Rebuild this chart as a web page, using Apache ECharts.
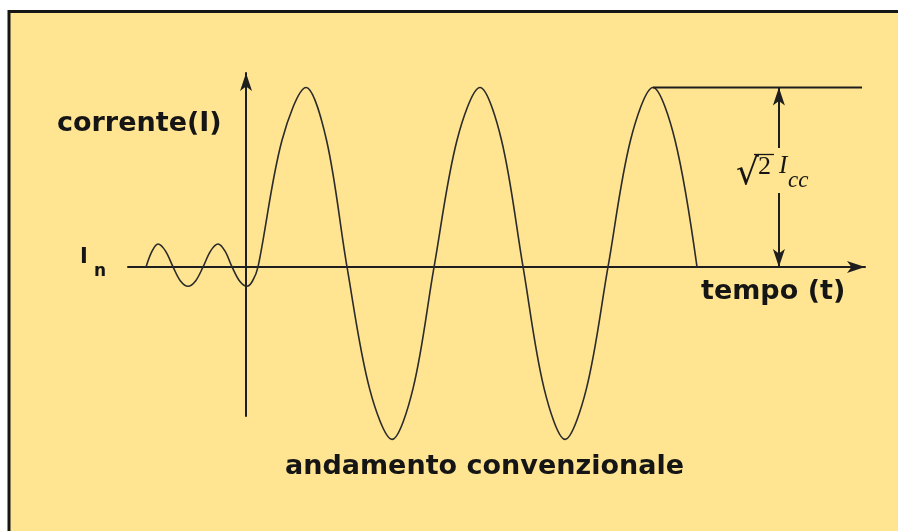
<!DOCTYPE html>
<html>
<head>
<meta charset="utf-8">
<title>andamento convenzionale</title>
<script src="https://cdn.jsdelivr.net/npm/echarts@6/dist/echarts.min.js"></script>
<style>
  html, body { margin: 0; padding: 0; background: #ffffff; }
  #chart { width: 898px; height: 531px; }
</style>
</head>
<body>
<div id="chart"></div>
<script>
  // tempo in ms (origine sull'asse verticale), corrente in % del picco
  var timeMs = [-11.43, -10.74, -10.06, -9.2, -8.34, -7.49, -6.63, -5.77, -4.91,
                -4.06, -3.2, -2.4, -1.6, -0.74, 0.11, 0.74, 1.37,
                4.11, 6.86, 9.2, 11.54, 14.11, 16.69, 19.09, 21.49,
                24.11, 26.74, 29.2, 31.66, 34.06, 36.46, 38.91, 41.37,
                43.94, 46.51, 49.03, 51.54];
  var currentPct = [0, 9, 13, 9, 0, -8, -11, -8, 0,
                    9, 13, 9, 0, -8, -11, -8, 0,
                    72, 102, 72, 0, -69, -98, -69, 0,
                    72, 102, 72, 0, -69, -98, -69, 0,
                    72, 102, 72, 0];

  // livello di picco (sqrt(2) Icc) e quota della freccia
  var peakLevel = 102;
  var peakLineT = [46.51, 70.4];
  var arrowT = 60.9;
  var arrowGap = [42, 67.6];

  var curve = [];
  for (var i = 0; i < timeMs.length; i++) {
    curve.push([timeMs[i], currentPct[i]]);
  }

  var chart = echarts.init(document.getElementById('chart'));

  var axisLineStyle = { color: '#1e1e1e', width: 2 };
  var ink = '#151515';

  chart.setOption({
    backgroundColor: '#ffffff',
    animation: false,
    grid: { left: 128, right: 33, top: 73, bottom: 115, outerBoundsMode: 'none' },
    xAxis: {
      type: 'value',
      min: -13.49,
      max: 70.74,
      axisLine: { onZero: true, symbol: ['none', 'arrow'], symbolSize: [9, 18], lineStyle: axisLineStyle },
      axisTick: { show: false },
      axisLabel: { show: false },
      splitLine: { show: false }
    },
    yAxis: {
      type: 'value',
      min: -84.7,
      max: 110.2,
      axisLine: { onZero: true, symbol: ['none', 'arrow'], symbolSize: [9, 18], lineStyle: axisLineStyle },
      axisTick: { show: false },
      axisLabel: { show: false },
      splitLine: { show: false }
    },
    series: [
      {
        name: 'corrente',
        type: 'line',
        data: curve,
        smooth: 0.33,
        symbol: 'none',
        clip: false,
        lineStyle: { color: '#2b2b2b', width: 1.6 }
      },
      {
        name: 'picco',
        type: 'line',
        data: [[peakLineT[0], peakLevel], [peakLineT[1], peakLevel]],
        symbol: 'none',
        clip: false,
        lineStyle: { color: '#1e1e1e', width: 2 },
        markLine: {
          silent: true,
          symbol: ['none', 'arrow'],
          symbolSize: [9, 18],
          label: { show: false },
          lineStyle: { color: '#1e1e1e', width: 2, type: 'solid' },
          data: [
            [{ coord: [arrowT, arrowGap[1]] }, { coord: [arrowT, peakLevel] }],
            [{ coord: [arrowT, arrowGap[0]] }, { coord: [arrowT, 0] }]
          ]
        }
      }
    ],
    graphic: [
      {
        type: 'rect',
        z: -1,
        silent: true,
        shape: { x: 9, y: 11.5, width: 1000, height: 1000 },
        style: { fill: '#ffe491', stroke: ink, lineWidth: 3 }
      },
      {
        type: 'text', left: 57, top: 110,
        style: { text: 'corrente(I)', font: 'bold 27px "DejaVu Sans"', fill: ink }
      },
      {
        type: 'text', left: 80, top: 247,
        style: { text: 'I', font: 'bold 21px "DejaVu Sans"', fill: ink }
      },
      {
        type: 'text', left: 94, top: 263,
        style: { text: 'n', font: 'bold 17px "DejaVu Sans"', fill: ink }
      },
      {
        type: 'text', left: 701, top: 278,
        style: { text: 'tempo (t)', font: 'bold 27px "DejaVu Sans"', fill: ink }
      },
      {
        type: 'text', left: 285, top: 453,
        style: { text: 'andamento convenzionale', font: 'bold 27px "DejaVu Sans"', fill: ink }
      },
      {
        type: 'text', left: 736, top: 157,
        style: { text: '\u221A', font: '36px "DejaVu Sans"', fill: ink }
      },
      {
        type: 'text', left: 758, top: 154,
        style: { text: '2', font: '26px "Liberation Serif"', fill: ink }
      },
      {
        type: 'line',
        shape: { x1: 754, y1: 154.5, x2: 774, y2: 154.5 },
        style: { stroke: ink, lineWidth: 1.3 }
      },
      {
        type: 'text', left: 779, top: 154,
        style: { text: 'I', font: 'italic 25px "Liberation Serif"', fill: ink }
      },
      {
        type: 'text', left: 788, top: 169,
        style: { text: 'cc', font: 'italic 23px "Liberation Serif"', fill: ink }
      }
    ]
  });
</script>
</body>
</html>
